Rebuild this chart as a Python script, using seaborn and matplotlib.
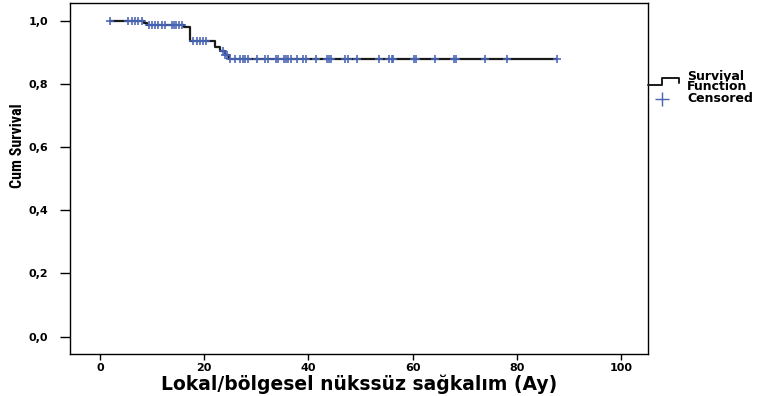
import numpy as np
import pandas as pd
import matplotlib
matplotlib.use("Agg")
import matplotlib.pyplot as plt
from matplotlib.lines import Line2D
import seaborn as sns

# Kaplan-Meier step function (time in months, cumulative survival)
step_times = [1.9, 8.4, 9.0, 16.1, 17.3, 22.1, 23.1, 23.9, 24.7, 87.7]
step_surv = [1.0, 0.992, 0.986, 0.979, 0.936, 0.918, 0.904, 0.891, 0.878, 0.878]

# Censored observation times
censor_times = [1.9, 5.4, 6.1, 6.7, 7.3, 8.1, 9.4, 10.0, 10.6, 11.1, 11.9, 12.5,
                13.8, 14.2, 14.6, 15.2, 15.7, 17.9, 18.6, 19.2, 19.8, 20.3,
                23.6, 24.0, 24.4, 25.0, 25.9, 26.9, 27.4, 27.8, 28.4, 30.1,
                31.7, 32.2, 33.8, 34.2, 35.3, 35.7, 36.1, 36.7, 37.8, 39.0,
                39.5, 41.5, 43.6, 44.0, 44.3, 47.0, 47.6, 49.3, 53.6, 55.5,
                56.0, 56.2, 60.3, 60.6, 64.3, 67.9, 68.3, 73.9, 78.1, 87.7]

x_ticks = [0, 20, 40, 60, 80, 100]
y_ticks = [0.0, 0.2, 0.4, 0.6, 0.8, 1.0]
y_tick_labels = ["0,0", "0,2", "0,4", "0,6", "0,8", "1,0"]

line_color = "#1a1a1a"
censor_color = "#4763b3"

curve = pd.DataFrame({"time": step_times, "surv": step_surv})
idx = np.searchsorted(np.array(step_times), np.array(censor_times), side="right") - 1
censored = pd.DataFrame({"time": censor_times,
                         "surv": np.array(step_surv)[np.clip(idx, 0, None)]})

sns.set_style("white")
plt.rcParams["font.family"] = ["DejaVu Sans"]
plt.rcParams["text.color"] = "black"

fig = plt.figure(figsize=(7.63, 3.96), dpi=100)
ax = fig.add_axes([0.0923, 0.106, 0.757, 0.886])

sns.lineplot(data=curve, x="time", y="surv", drawstyle="steps-post",
             color=line_color, linewidth=1.6, ax=ax, legend=False)
sns.scatterplot(data=censored, x="time", y="surv", marker="+", s=34,
                color=censor_color, linewidth=1.15, ax=ax, legend=False, zorder=3)

ax.set_xlim(-5.7, 105.2)
ax.set_ylim(-0.055, 1.056)
ax.set_xticks(x_ticks)
ax.set_xticklabels([str(v) for v in x_ticks], fontsize=8, fontweight="bold")
ax.set_yticks(y_ticks)
ax.set_yticklabels(y_tick_labels, fontsize=8, fontweight="bold")
ax.tick_params(axis="both", width=1, color="black", labelcolor="black",
               direction="out", bottom=True, left=True)
ax.tick_params(axis="y", length=7, pad=9)
ax.tick_params(axis="x", length=4.5, pad=2)
for s in ax.spines.values():
    s.set_color("black")
    s.set_linewidth(1.0)

ax.set_xlabel("Lokal/bölgesel nükssüz sağkalım (Ay)", fontsize=13.5,
              fontweight="bold", color="black")
ax.xaxis.set_label_coords(0.5, -0.058)
ax.set_ylabel("Cum Survival", fontsize=11.5, fontweight="bold", color="black",
              family=["Roboto Condensed", "Roboto", "DejaVu Sans"])
ax.yaxis.set_label_coords(-0.079, 0.595)

# Legend drawn outside the plot area on the right
W, H = 763, 396
def fx(px):
    return px / W
def fy(py):
    return 1 - py / H

fig.add_artist(Line2D([fx(648), fx(662), fx(662), fx(679), fx(679)],
                      [fy(84.5), fy(84.5), fy(78), fy(78), fy(82.5)],
                      color=line_color, linewidth=1.4, transform=fig.transFigure))
fig.text(fx(687), fy(81.5), "Survival\nFunction", fontsize=9, fontweight="bold",
         va="center", ha="left", linespacing=0.78)
fig.add_artist(Line2D([fx(662)], [fy(98.5)], marker="+", markersize=10,
                      markeredgewidth=1.0, color=censor_color, linestyle="none",
                      transform=fig.transFigure))
fig.text(fx(687), fy(99), "Censored", fontsize=9, fontweight="bold",
         va="center", ha="left")

fig.savefig("out.png", dpi=100)
